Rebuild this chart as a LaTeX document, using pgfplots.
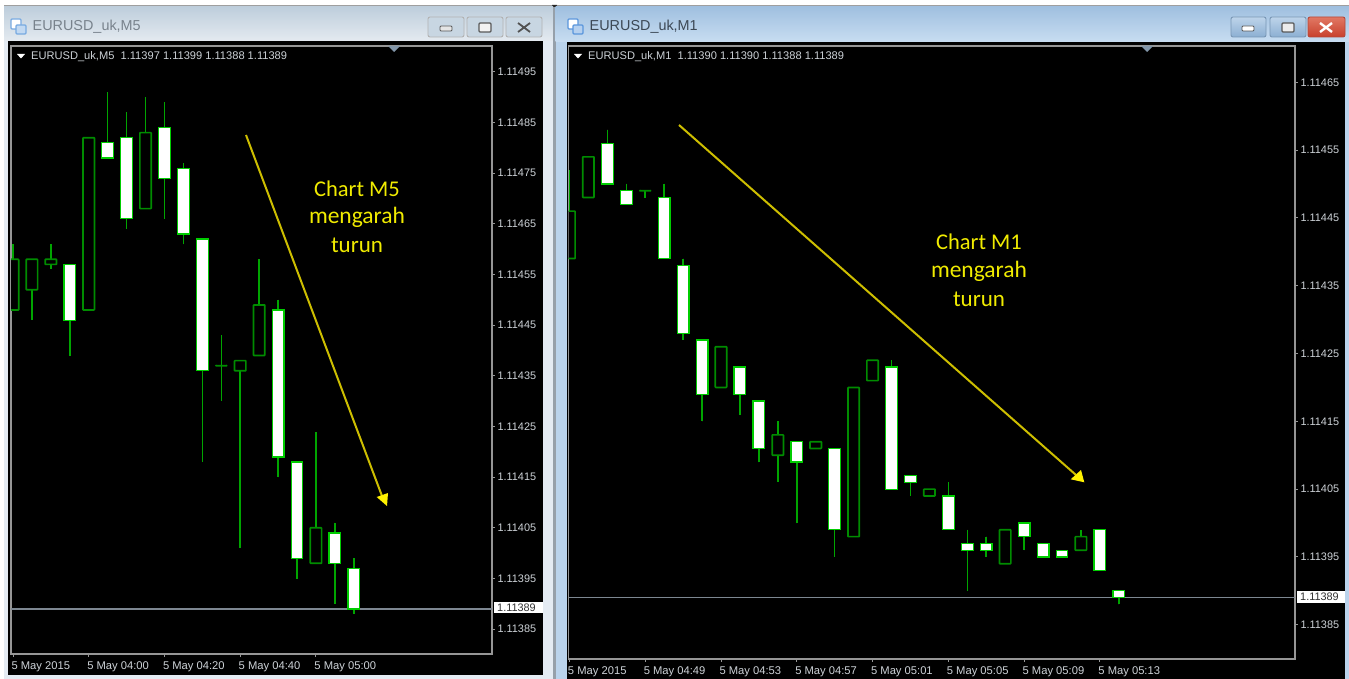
\documentclass[border=0pt]{standalone}
\usepackage{fontspec}
\setmainfont{Liberation Sans}
\newfontfamily\notefont{Carlito}
\usepackage{pgfplots}
\usepackage{pgfplotstable}
\usepgfplotslibrary{statistics}
\pgfplotsset{compat=1.18}

\definecolor{wick}{RGB}{0,165,0}
\definecolor{upgreen}{RGB}{0,140,0}
\definecolor{downgreen}{RGB}{0,205,0}
\definecolor{framegray}{RGB}{150,150,150}
\definecolor{labelgray}{RGB}{205,210,215}
\definecolor{priceline}{RGB}{125,135,145}
\definecolor{arrowline}{RGB}{205,190,0}
\definecolor{notecol}{RGB}{240,235,0}
\definecolor{winpale}{RGB}{228,235,243}
\definecolor{wintop}{RGB}{190,206,220}
\definecolor{winbot}{RGB}{228,234,240}
\definecolor{winsep}{RGB}{150,160,170}
\definecolor{actpale}{RGB}{186,211,236}
\definecolor{acttop}{RGB}{160,192,224}
\definecolor{actbot}{RGB}{200,221,241}
\definecolor{iconleft}{RGB}{120,170,225}
\definecolor{iconright}{RGB}{90,150,220}
\definecolor{titleleft}{RGB}{120,130,140}
\definecolor{titleright}{RGB}{60,72,85}
\definecolor{btnpale}{RGB}{200,214,226}
\definecolor{btnedge}{RGB}{120,150,180}
\definecolor{btntop}{RGB}{190,212,234}
\definecolor{btnbot}{RGB}{140,175,210}
\definecolor{redge}{RGB}{180,70,55}
\definecolor{rtop}{RGB}{225,120,100}
\definecolor{rbot}{RGB}{200,65,45}
\definecolor{marker}{RGB}{130,150,170}

% M5 chart: open high low close
\pgfplotstableread{
o h l c
1.11448 1.11461 1.11448 1.11458
1.11452 1.11458 1.11446 1.11458
1.11457 1.11461 1.11456 1.11458
1.11457 1.11457 1.11439 1.11446
1.11448 1.11482 1.11448 1.11482
1.11481 1.11491 1.11478 1.11478
1.11482 1.11487 1.11464 1.11466
1.11468 1.11490 1.11468 1.11483
1.11484 1.11489 1.11466 1.11474
1.11476 1.11477 1.11461 1.11463
1.11462 1.11462 1.11418 1.11436
1.11437 1.11443 1.11430 1.11437
1.11436 1.11438 1.11401 1.11438
1.11439 1.11458 1.11439 1.11449
1.11448 1.11450 1.11415 1.11419
1.11418 1.11418 1.11395 1.11399
1.11398 1.11424 1.11398 1.11405
1.11404 1.11406 1.11390 1.11398
1.11397 1.11399 1.11388 1.11389
}\tableFive

% M1 chart: open high low close
\pgfplotstableread{
o h l c
1.11439 1.11452 1.11439 1.11446
1.11448 1.11454 1.11448 1.11454
1.11456 1.11458 1.11450 1.11450
1.11449 1.11450 1.11447 1.11447
1.11449 1.11449 1.11448 1.11449
1.11448 1.11450 1.11439 1.11439
1.11438 1.11439 1.11427 1.11428
1.11427 1.11427 1.11415 1.11419
1.11420 1.11426 1.11420 1.11426
1.11423 1.11423 1.11416 1.11419
1.11418 1.11418 1.11409 1.11411
1.11410 1.11415 1.11406 1.11413
1.11412 1.11412 1.11400 1.11409
1.11411 1.11412 1.11411 1.11412
1.11411 1.11411 1.11395 1.11399
1.11398 1.11420 1.11398 1.11420
1.11421 1.11424 1.11421 1.11424
1.11423 1.11424 1.11405 1.11405
1.11407 1.11407 1.11404 1.11406
1.11404 1.11405 1.11404 1.11405
1.11404 1.11406 1.11399 1.11399
1.11397 1.11399 1.11390 1.11396
1.11397 1.11398 1.11395 1.11396
1.11394 1.11399 1.11394 1.11399
1.11400 1.11400 1.11396 1.11398
1.11397 1.11397 1.11395 1.11395
1.11396 1.11396 1.11395 1.11395
1.11396 1.11399 1.11396 1.11398
1.11399 1.11399 1.11393 1.11393
1.11390 1.11390 1.11388 1.11389
}\tableOne

\pgfplotsset{
  % args: position, open, high, low, close
  upcandle/.style n args={5}{
    boxplot prepared={draw position=#1, lower whisker=#4, upper whisker=#3,
      lower quartile=#2, upper quartile=#5, median=#2},
    draw=upgreen, fill=black, line width=1.7pt,
    boxplot/every box/.style={line width=1.7pt, rounded corners=0.6pt},
  },
  downcandle/.style n args={5}{
    boxplot prepared={draw position=#1, lower whisker=#4, upper whisker=#3,
      lower quartile=#5, upper quartile=#2, median=#2, box extend=0.62},
    draw=downgreen, fill=white, line width=1.2pt,
    boxplot/every box/.style={line width=1.2pt},
  },
  mt4/.style={
    scale only axis, anchor=north west,
    axis line style={framegray, line width=1.6pt},
    tick style={framegray, line width=1pt},
    tick align=outside, major tick length=3pt,
    xtick pos=bottom, ytick pos=right,
    xticklabel pos=bottom, yticklabel pos=right,
    scaled y ticks=false,
    boxplot/draw direction=y,
    boxplot/box extend=0.6,
    boxplot/whisker extend=0,
    boxplot/draw/median/.code={},
    boxplot/every whisker/.style={draw=wick, line width=1.5pt},
    x tick label style={font=\fontsize{11.2}{13}\selectfont, text=labelgray,
      anchor=north west, xshift=-5pt, yshift=-1pt},
    y tick label style={font=\fontsize{10.9}{13}\selectfont, text=labelgray,
      anchor=west, xshift=-1pt,
      /pgf/number format/fixed, /pgf/number format/fixed zerofill,
      /pgf/number format/precision=5,
      /pgf/number format/assume math mode=true},
  },
}

% \candles{table}{style}{row list}
\newcommand{\candles}[3]{%
  \pgfplotsinvokeforeach{#3}{%
    \pgfplotstablegetelem{##1}{o}\of#1\edef\co{\pgfplotsretval}%
    \pgfplotstablegetelem{##1}{h}\of#1\edef\ch{\pgfplotsretval}%
    \pgfplotstablegetelem{##1}{l}\of#1\edef\cl{\pgfplotsretval}%
    \pgfplotstablegetelem{##1}{c}\of#1\edef\cc{\pgfplotsretval}%
    \edef\doplot{\noexpand\addplot[#2={##1}{\co}{\ch}{\cl}{\cc}] coordinates {};}%
    \doplot
  }%
}

\begin{document}
\begin{tikzpicture}
\path[use as bounding box] (0,0) rectangle (1349pt,-679pt);

\begin{scope}[x=1pt,y=-1pt]
% desktop and window chrome
\fill[white] (0,0) rectangle (1349,679);
\fill[gray!75] (4,5) rectangle (1349,7);
\fill[black!85] (552,5) -- (557,5) -- (554.5,10) -- cycle;

% left window, inactive
\fill[winpale] (4,7) rectangle (553,679);
\shade[top color=wintop, bottom color=winbot] (4,7) rectangle (553,41);
\fill[black] (8,41) rectangle (543,675);
\fill[winsep] (553,7) rectangle (555.5,679);

% right window, active
\fill[actpale] (555.5,7) rectangle (1349,679);
\shade[top color=acttop, bottom color=actbot] (555.5,7) rectangle (1349,42);
\fill[black] (566.5,42) rectangle (1345,679);

% window icons
\foreach \ix/\tc in {10/iconleft, 567/iconright} {
  \draw[draw=\tc, fill=white, line width=1.2pt, rounded corners=1pt] (\ix+1,19) rectangle (\ix+11,29);
  \draw[draw=\tc, fill=\tc!45, line width=1.2pt, rounded corners=1pt] (\ix+6,25) rectangle (\ix+16,34);
}
\node[anchor=west, inner sep=0pt, text=titleleft, font=\fontsize{14.4}{17}\selectfont] at (32.5,27) {EURUSD\_uk,M5};
\node[anchor=west, inner sep=0pt, text=titleright, font=\fontsize{14.4}{17}\selectfont] at (589.5,27) {EURUSD\_uk,M1};

% caption buttons, left window
\foreach \xa/\xb in {428/464, 467/503, 506/542} {
  \draw[draw=gray!60, fill=btnpale, rounded corners=2pt, line width=0.9pt] (\xa,17) rectangle (\xb,37);
}
\draw[draw=gray!70!black, fill=gray!20, rounded corners=1pt, line width=0.8pt] (440,26) rectangle (452,31);
\draw[draw=gray!70!black, fill=gray!10, rounded corners=1pt, line width=1.2pt] (479,23) rectangle (491,32);
\draw[gray!65!black, line width=1.8pt] (518,23) -- (530,32) (518,32) -- (530,23);

% caption buttons, right window
\foreach \xa/\xb in {1231/1266, 1270/1306} {
  \draw[draw=btnedge, top color=btntop, bottom color=btnbot, rounded corners=2pt, line width=0.9pt] (\xa,17) rectangle (\xb,37);
}
\draw[draw=redge, top color=rtop, bottom color=rbot, rounded corners=2pt, line width=0.9pt] (1308,17) rectangle (1345,37);
\draw[draw=gray!70!black, fill=white, rounded corners=1pt, line width=0.8pt] (1242,26) rectangle (1254,31);
\draw[draw=gray!70!black, fill=white!85!gray, rounded corners=1pt, line width=1.2pt] (1282,23) rectangle (1294,32);
\draw[white, line width=2.4pt] (1320,23) -- (1332,32) (1320,32) -- (1332,23);
\end{scope}

% M5 chart
\begin{axis}[mt4, at={(11pt,-46pt)}, width=481pt, height=608pt,
  xmin=-0.106, xmax=25.3, ymin=1.113801, ymax=1.115001,
  xtick={0,4,8,12,16},
  xticklabels={5 May 2015, 5 May 04:00, 5 May 04:20, 5 May 04:40, 5 May 05:00},
  ytick={1.11385,1.11395,1.11405,1.11415,1.11425,1.11435,1.11445,1.11455,1.11465,1.11475,1.11485,1.11495},
]
\addplot[priceline, line width=1.2pt] coordinates {(-0.106,1.11389) (25.3,1.11389)};
\candles{\tableFive}{upcandle}{0,1,2,4,7,11,12,13,16}
\candles{\tableFive}{downcandle}{3,5,6,8,9,10,14,15,17,18}
\end{axis}

% M1 chart
\begin{axis}[mt4, at={(568.5pt,-46pt)}, width=726.5pt, height=613pt,
  xmin=-0.05, xmax=38.3, ymin=1.1137995, ymax=1.1147035,
  xtick={0,4,8,12,16,20,24,28},
  xticklabels={5 May 2015, 5 May 04:49, 5 May 04:53, 5 May 04:57, 5 May 05:01, 5 May 05:05, 5 May 05:09, 5 May 05:13},
  ytick={1.11385,1.11395,1.11405,1.11415,1.11425,1.11435,1.11445,1.11455,1.11465},
]
\addplot[priceline, line width=1.2pt] coordinates {(-0.05,1.11389) (38.3,1.11389)};
\candles{\tableOne}{upcandle}{0,1,4,8,11,13,15,16,19,23,27}
\candles{\tableOne}{downcandle}{2,3,5,6,7,9,10,12,14,17,18,20,21,22,24,25,26,28,29}
\end{axis}

\begin{scope}[x=1pt,y=-1pt]
% chart headers
\fill[white] (17,54) -- (25,54) -- (21,58.5) -- cycle;
\fill[white] (574,54) -- (582,54) -- (578,58.5) -- cycle;
\node[anchor=west, inner sep=0pt, text=labelgray, font=\fontsize{11.1}{13}\selectfont] at (31,57) {EURUSD\_uk,M5\ \ 1.11397 1.11399 1.11388 1.11389};
\node[anchor=west, inner sep=0pt, text=labelgray, font=\fontsize{11.1}{13}\selectfont] at (588,56.5) {EURUSD\_uk,M1\ \ 1.11390 1.11390 1.11388 1.11389};

% shift markers on the top edge
\fill[marker] (388,46) -- (400,46) -- (394,52) -- cycle;
\fill[marker] (1141,46) -- (1153,46) -- (1147,52) -- cycle;

% last price tags
\fill[white] (494,602) rectangle (543,613);
\node[anchor=west, inner sep=0pt, text=black!80, font=\fontsize{10.9}{13}\selectfont] at (497,607.5) {1.11389};
\fill[white] (1297,591) rectangle (1345,603);
\node[anchor=west, inner sep=0pt, text=black!80, font=\fontsize{10.9}{13}\selectfont] at (1300,597) {1.11389};

% hand drawn arrows and notes
\draw[arrowline, line width=2pt] (246,135) -- (382,496);
\fill[yellow] (387,506) -- (376.7,497) -- (388,493) -- cycle;
\draw[arrowline, line width=2pt] (679,125) -- (1076,475);
\fill[yellow] (1084.3,482.3) -- (1070.7,479.3) -- (1081,470) -- cycle;

\node[text=notecol, font=\notefont\fontsize{22.5}{24}\selectfont, inner sep=0pt] at (357,189) {Chart M5};
\node[text=notecol, font=\notefont\fontsize{23.5}{24}\selectfont, inner sep=0pt] at (357,217.5) {mengarah};
\node[text=notecol, font=\notefont\fontsize{23}{24}\selectfont, inner sep=0pt] at (357,245) {turun};
\node[text=notecol, font=\notefont\fontsize{22.5}{24}\selectfont, inner sep=0pt] at (979,242) {Chart M1};
\node[text=notecol, font=\notefont\fontsize{23.5}{24}\selectfont, inner sep=0pt] at (979,271.5) {mengarah};
\node[text=notecol, font=\notefont\fontsize{23}{24}\selectfont, inner sep=0pt] at (979,299) {turun};
\end{scope}
\end{tikzpicture}
\end{document}
